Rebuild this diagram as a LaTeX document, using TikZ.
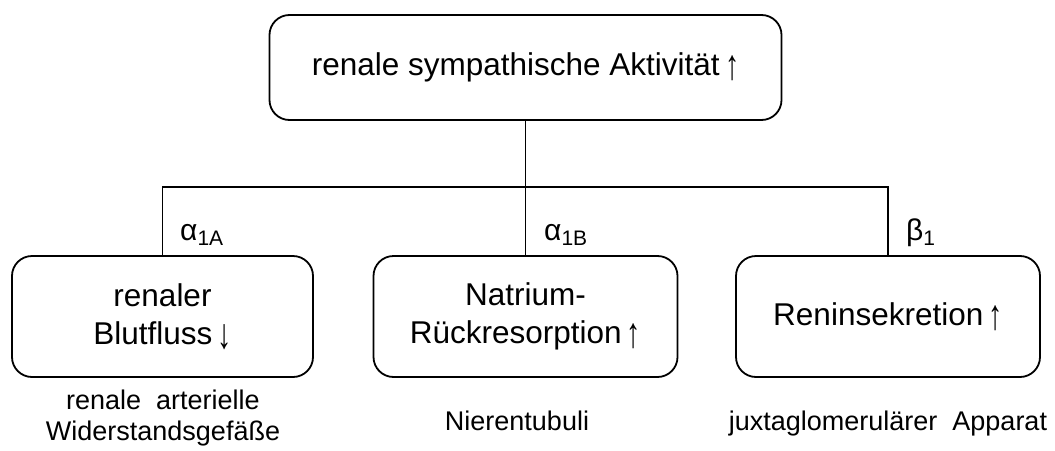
\documentclass[tikz,border=0pt]{standalone}
\usepackage{fontspec}
\usepackage{graphicx}
\setmainfont{Liberation Sans}
\newcommand{\upar}{\,\raisebox{-0.12em}{\scalebox{0.9}[1.35]{↑}}}
\newcommand{\downar}{\,\raisebox{-0.12em}{\scalebox{0.9}[1.35]{↓}}}
\begin{document}
\begin{tikzpicture}[x=1pt,y=-1pt,
  box/.style={draw,line width=1.8pt,rounded corners=20pt,align=center,inner sep=0pt,
    font=\fontsize{31.5}{38}\selectfont},
  link/.style={line width=1.8pt},
  rlabel/.style={anchor=base west,inner sep=0pt,font=\fontsize{30}{32}\selectfont},
  site/.style={align=center,inner sep=0pt,font=\fontsize{27}{31}\selectfont}]
\useasboundingbox (0,0) rectangle (1055,450);
\node[box,minimum width=512pt,minimum height=105pt] (top) at (525.5,67.5) {renale sympathische Aktivität\upar};
\node[box,minimum width=301pt,minimum height=121pt] (l) at (162.5,316.5) {renaler\\Blutfluss\downar};
\node[box,minimum width=304pt,minimum height=121pt] (m) at (525.5,316.5) {Natrium-\\Rückresorption\upar};
\node[box,minimum width=304pt,minimum height=121pt] (r) at (888,316.5) {Reninsekretion\upar};
\coordinate (j) at (525.5,187);
\draw[link] (top.south) -- (j);
\draw[link] (l.north) |- (j) -| (r.north);
\draw[link] (j) -- (m.north);
\node[rlabel] (a1) at (180,240) {α\textsubscript{1A}};
\node[rlabel] (a2) at (544,240) {α\textsubscript{1B}};
\node[rlabel] (b1) at (906,240) {β\textsubscript{1}};
\node[site,anchor=north] (sl) at (163,390) {renale\ \ arterielle\\Widerstandsgefäße};
\node[site,anchor=base] (sm) at (517,430) {Nierentubuli};
\node[site,anchor=base] (sr) at (888,430) {juxtaglomerulärer\ \ Apparat};
\end{tikzpicture}
\end{document}
